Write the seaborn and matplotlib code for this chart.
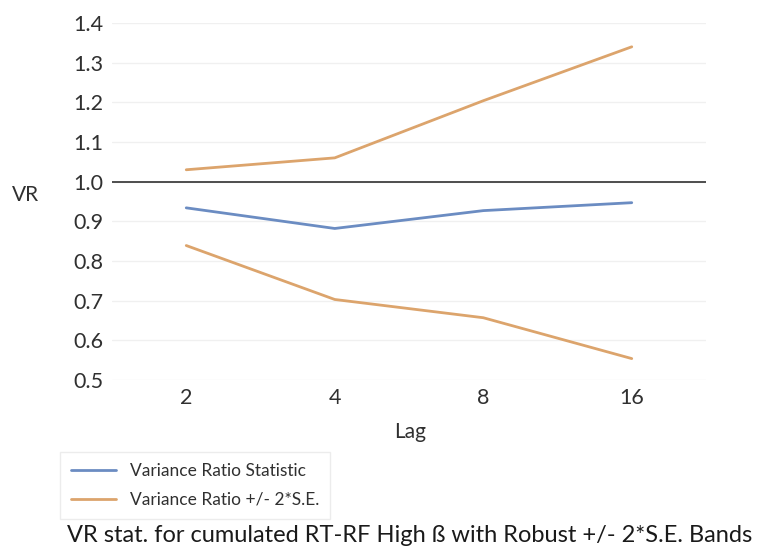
import matplotlib
matplotlib.use("Agg")
import matplotlib.pyplot as plt
import seaborn as sns
import pandas as pd
from matplotlib.lines import Line2D

lags = ["2", "4", "8", "16"]
vr_stat = [0.934, 0.882, 0.927, 0.947]
upper_band = [1.030, 1.060, 1.204, 1.340]
lower_band = [0.839, 0.703, 0.657, 0.554]
yticks = [0.5, 0.6, 0.7, 0.8, 0.9, 1.0, 1.1, 1.2, 1.3, 1.4]

sns.set_theme(style="white")
plt.rcParams['font.family'] = ['Lato', 'DejaVu Sans']

blue = "#6b8cc2"
orange = "#dca46c"
txt = "#303030"

fig = plt.figure(figsize=(7.61, 5.52), dpi=100)
ax = fig.add_axes([112/761, 1-380/552, (706-112)/761, (380-23)/552])

df = pd.DataFrame({"lag": lags, "stat": vr_stat, "up": upper_band, "lo": lower_band})
sns.lineplot(data=df, x="lag", y="up", ax=ax, color=orange, lw=2, sort=False)
sns.lineplot(data=df, x="lag", y="lo", ax=ax, color=orange, lw=2, sort=False)
sns.lineplot(data=df, x="lag", y="stat", ax=ax, color=blue, lw=2, sort=False)

ax.set_xlim(-0.5, 3.5)
ax.set_ylim(0.5, 1.4)
ax.set_yticks(yticks)
ax.set_yticklabels([f"{v:.1f}" for v in yticks])
for s in ax.spines.values():
    s.set_visible(False)
ax.grid(axis="y", color="#f0f0f0", lw=1)
ax.grid(axis="x", visible=False)
ax.set_axisbelow(True)
ax.axhline(1.0, color="#404040", lw=1.3, zorder=1)
ax.tick_params(axis="both", length=0, labelsize=15.5, colors=txt)
ax.tick_params(axis="y", pad=6)
ax.tick_params(axis="x", pad=6)
ax.set_xlabel("")
ax.set_ylabel("")

fig.text(12/761, 1-195/552, "VR", fontsize=15, color=txt, ha="left", va="center")
fig.text(410/761, 1-432/552, "Lag", fontsize=15, color=txt, ha="center", va="center")

handles = [Line2D([0], [0], color=blue, lw=2), Line2D([0], [0], color=orange, lw=2)]
leg = fig.legend(handles, ["Variance Ratio Statistic", "Variance Ratio +/- 2*S.E."],
                 loc="upper left", bbox_to_anchor=(60/761, 1-452/552), frameon=True,
                 fontsize=12.5, handlelength=2.6, borderpad=0.62, labelspacing=0.75,
                 borderaxespad=0, fancybox=False, edgecolor="#e8e8e8")
for t in leg.get_texts():
    t.set_color(txt)

fig.text(410/761, 1-535/552, "VR stat. for cumulated RT-RF High ß with Robust +/- 2*S.E. Bands",
         fontsize=17, color="#1a1a1a", ha="center", va="center")

fig.savefig("out.png", dpi=100)
